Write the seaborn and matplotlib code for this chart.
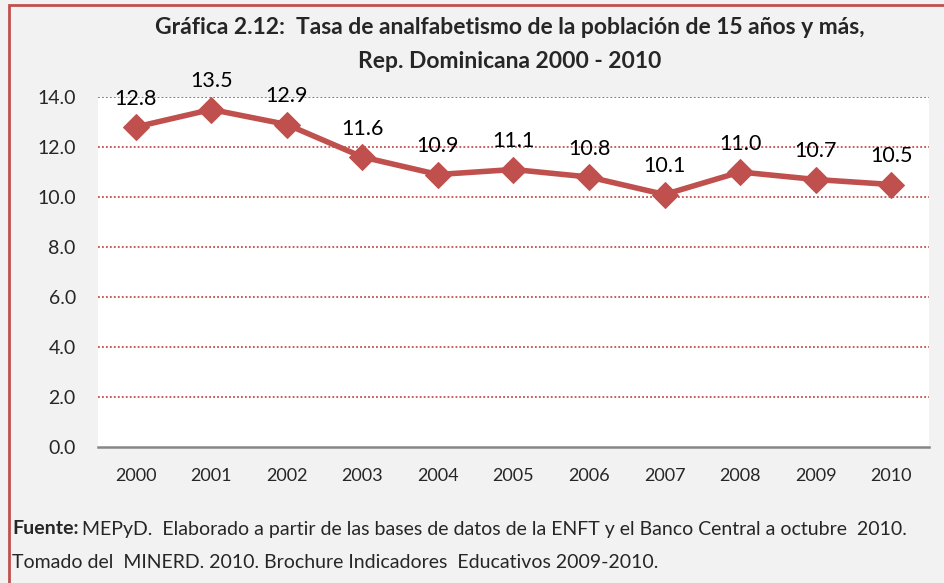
import matplotlib
matplotlib.use("Agg")
import matplotlib.pyplot as plt
from matplotlib.patches import Rectangle
import pandas as pd
import seaborn as sns

years = [2000, 2001, 2002, 2003, 2004, 2005, 2006, 2007, 2008, 2009, 2010]
rates = [12.8, 13.5, 12.9, 11.6, 10.9, 11.1, 10.8, 10.1, 11.0, 10.7, 10.5]
y_ticks = [0, 2, 4, 6, 8, 10, 12, 14]

RED = "#c0504d"
BG = "#f2f2f2"

sns.set_style("white")
plt.rcParams["font.family"] = ["Lato", "DejaVu Sans"]

df = pd.DataFrame({"year": years, "rate": rates})

fig = plt.figure(figsize=(9.45, 5.83), dpi=100, facecolor=BG)
ax = fig.add_axes([98 / 945, 1 - 447 / 583, (929 - 98) / 945, (447 - 97) / 583])
ax.set_facecolor("white")

sns.lineplot(data=df, x="year", y="rate", ax=ax, color=RED, linewidth=4,
             marker="D", markersize=13, markeredgecolor=RED, zorder=3)

for x, y in zip(years, rates):
    ax.annotate(f"{y:.1f}", (x, y), xytext=(0, 13), textcoords="offset points",
                ha="center", va="bottom", fontsize=15.5, color="black",
                annotation_clip=False)

ax.set_xlim(years[0] - 0.5, years[-1] + 0.5)
ax.set_ylim(0, 14)
ax.set_yticks(y_ticks)
ax.set_yticklabels([f"{t:.1f}" for t in y_ticks])
ax.set_xticks(years)
ax.set_xticklabels([str(y) for y in years])
ax.tick_params(axis="y", length=0, pad=16, labelsize=14)
ax.tick_params(axis="x", length=0, pad=15, labelsize=13)
ax.set_xlabel("")
ax.set_ylabel("")

for t in y_ticks[1:]:
    ax.axhline(t, color=RED, linestyle=(0, (1, 1.2)), linewidth=1.3, zorder=1)

for side in ("top", "right", "left"):
    ax.spines[side].set_visible(False)
ax.spines["bottom"].set_color("#868686")
ax.spines["bottom"].set_linewidth(1.8)

fig.text(510 / 945, 1 - 28 / 583,
         "Gráfica 2.12:  Tasa de analfabetismo de la población de 15 años y más,",
         ha="center", va="center", fontsize=16.5, fontweight="bold")
fig.text(510 / 945, 1 - 62 / 583, "Rep. Dominicana 2000 - 2010",
         ha="center", va="center", fontsize=16.5, fontweight="bold")

# footnote: bold lead-in, rest placed right after it
lead = fig.text(12 / 945, 1 - 529 / 583, "Fuente:", ha="left", va="center",
                fontsize=14, fontweight="bold")
fig.canvas.draw()
lead_box = lead.get_window_extent().transformed(fig.transFigure.inverted())
fig.text(lead_box.x1 + 4 / 945, 1 - 529 / 583,
         "MEPyD.  Elaborado a partir de las bases de datos de la ENFT y el Banco Central a octubre  2010.",
         ha="left", va="center", fontsize=14)
fig.text(12 / 945, 1 - 562 / 583,
         "Tomado del  MINERD. 2010. Brochure Indicadores  Educativos 2009-2010.",
         ha="left", va="center", fontsize=14)

fig.patches.append(Rectangle((9 / 945, -0.1), 1.2, 1.1 - 5 / 583,
                             transform=fig.transFigure, fill=False,
                             edgecolor=RED, linewidth=2, zorder=0))

fig.savefig("out.png", dpi=100, facecolor=BG)
